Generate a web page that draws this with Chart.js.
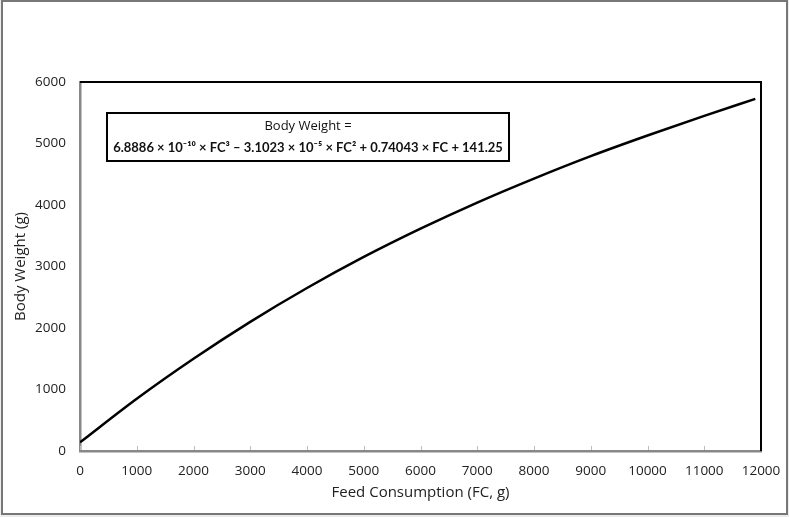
<!DOCTYPE html>
<html>
<head>
<meta charset="utf-8">
<script src="https://cdn.jsdelivr.net/npm/chart.js@4.4.1/dist/chart.umd.min.js"></script>
<style>
body{margin:0;background:#ececec;}
#wrap{position:relative;width:789px;height:517px;}
#frame{position:absolute;left:1px;top:0;width:783px;height:511px;border:2px solid #777;background:#fff;}
#chart{position:absolute;left:0;top:0;}
</style>
</head>
<body>
<div id="wrap">
    <div id="frame"></div>
    <canvas id="chart" width="789" height="517"></canvas>
</div>
<script>
// DATA
const feed=[0,1000,2000,3000,4000,5000,6000,7000,8000,9000,10000,11000,11900];
const weight=[141,850,1500,2100,2650,3155,3615,4040,4430,4795,5130,5450,5725];
const xTicks=[0,1000,2000,3000,4000,5000,6000,7000,8000,9000,10000,11000,12000];
const yTicks=[0,1000,2000,3000,4000,5000,6000];
const boxLine1="Body Weight =";
const boxLine2="6.8886 × 10⁻¹⁰ × FC³ – 3.1023 × 10⁻⁵ × FC² + 0.74043 × FC + 141.25";

const font="Open Sans";

// FRAME + INNER TICKS + EQUATION BOX
const extras={
    id:"extras",
    afterDraw(chart){
        const c=chart.ctx, a=chart.chartArea;
        c.save();

        // small ticks on the x axis, pointing up
        c.strokeStyle="#bbb";
        c.lineWidth=1;
        xTicks.forEach(v=>{
            const px=Math.round(chart.scales.x.getPixelForValue(v))+0.5;
            c.beginPath();
            c.moveTo(px,a.bottom-1);
            c.lineTo(px,a.bottom-5);
            c.stroke();
        });

        // top and right border
        c.strokeStyle="#000";
        c.lineWidth=2;
        c.beginPath();
        c.moveTo(a.left,a.top);
        c.lineTo(a.right,a.top);
        c.lineTo(a.right,a.bottom);
        c.stroke();

        // equation box
        const bx=a.left+27, by=a.top+31, bw=402, bh=48;
        c.lineWidth=2;
        c.strokeRect(bx,by,bw,bh);
        c.fillStyle="#111";
        c.textAlign="center";
        c.textBaseline="middle";
        c.font="13px "+font;
        c.fillText(boxLine1,bx+bw/2,by+13);
        c.font="bold 13px Lato";
        c.fillText(boxLine2,bx+bw/2,by+35);
        c.restore();
    }
};

new Chart(document.getElementById("chart"),{
    type:"line",
    data:{
        datasets:[{
            data:feed.map((f,i)=>({x:f,y:weight[i]})),
            borderColor:"#000",
            borderWidth:2.5,
            pointRadius:0,
            cubicInterpolationMode:"monotone",
            fill:false
        }]
    },
    options:{
        responsive:false,
        animation:false,
        layout:{padding:{left:8,top:82,right:28,bottom:15}},
        plugins:{legend:{display:false},tooltip:{enabled:false}},
        scales:{
            x:{
                type:"linear",
                min:0,max:12000,
                afterBuildTicks(s){s.ticks=xTicks.map(v=>({value:v}));},
                afterFit(s){s.height=51;},
                grid:{display:false},
                border:{color:"#888",width:2.5},
                ticks:{color:"#222",font:{family:font,size:13.5},padding:4,maxRotation:0,autoSkip:false,callback:v=>String(v)},
                title:{display:true,text:"Feed Consumption (FC, g)",color:"#222",font:{family:font,size:15},padding:{top:0,bottom:0}}
            },
            y:{
                min:0,max:6000,
                afterBuildTicks(s){s.ticks=yTicks.map(v=>({value:v}));},
                afterFit(s){s.width=72;},
                grid:{display:false},
                border:{color:"#888",width:2.5},
                ticks:{color:"#222",font:{family:font,size:13.5},padding:6,callback:v=>String(v)},
                title:{display:true,text:"Body Weight (g)",color:"#222",font:{family:font,size:15},padding:{top:4,bottom:0}}
            }
        }
    },
    plugins:[extras]
});
</script>
</body>
</html>
